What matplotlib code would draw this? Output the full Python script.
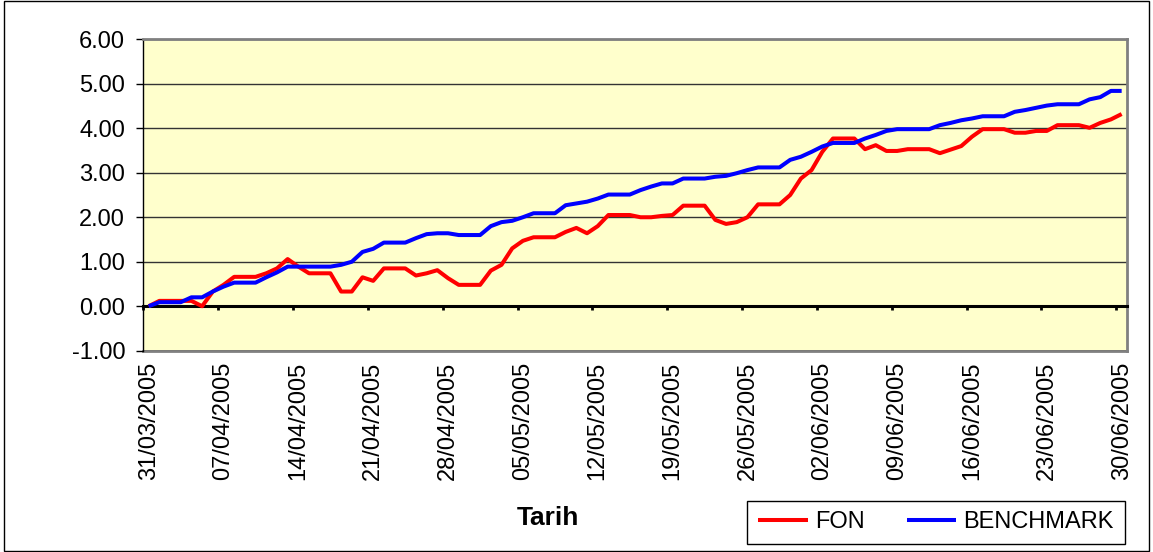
import numpy as np
import pandas as pd
import matplotlib
matplotlib.use('Agg')
import matplotlib.pyplot as plt
import matplotlib.dates as mdates
from matplotlib.patches import Rectangle
from matplotlib.ticker import FormatStrFormatter

plt.rcParams['font.family'] = ['Liberation Sans', 'DejaVu Sans']

# daily values, 31/03/2005 .. 30/06/2005 (weekends carry the Friday value)
dates = pd.date_range('2005-03-31', '2005-06-30', freq='D')

fon = [0.00, 0.12, 0.12, 0.12, 0.12, 0.00, 0.33, 0.48, 0.66, 0.66,
       0.66, 0.74, 0.85, 1.06, 0.89, 0.74, 0.74, 0.74, 0.33, 0.33,
       0.65, 0.57, 0.85, 0.85, 0.85, 0.69, 0.74, 0.81, 0.63, 0.48,
       0.48, 0.48, 0.80, 0.93, 1.30, 1.47, 1.55, 1.55, 1.55, 1.67,
       1.76, 1.64, 1.80, 2.05, 2.05, 2.05, 2.00, 2.00, 2.03, 2.05,
       2.26, 2.26, 2.26, 1.94, 1.85, 1.89, 2.00, 2.29, 2.29, 2.29,
       2.50, 2.87, 3.06, 3.47, 3.77, 3.77, 3.77, 3.53, 3.62, 3.49,
       3.49, 3.53, 3.53, 3.53, 3.44, 3.52, 3.60, 3.81, 3.98, 3.98,
       3.98, 3.90, 3.90, 3.94, 3.94, 4.07, 4.07, 4.07, 4.01, 4.12,
       4.20, 4.32]

benchmark = [0.00, 0.09, 0.09, 0.09, 0.20, 0.20, 0.33, 0.44, 0.53, 0.53,
             0.53, 0.65, 0.76, 0.89, 0.89, 0.89, 0.89, 0.89, 0.93, 1.00,
             1.22, 1.29, 1.43, 1.43, 1.43, 1.53, 1.62, 1.64, 1.64, 1.60,
             1.60, 1.60, 1.80, 1.89, 1.92, 2.00, 2.09, 2.09, 2.09, 2.27,
             2.31, 2.35, 2.42, 2.51, 2.51, 2.51, 2.61, 2.69, 2.76, 2.76,
             2.87, 2.87, 2.87, 2.91, 2.93, 2.99, 3.06, 3.12, 3.12, 3.12,
             3.29, 3.36, 3.47, 3.59, 3.67, 3.67, 3.67, 3.77, 3.85, 3.94,
             3.98, 3.98, 3.98, 3.98, 4.07, 4.12, 4.18, 4.22, 4.27, 4.27,
             4.27, 4.37, 4.41, 4.46, 4.51, 4.54, 4.54, 4.54, 4.65, 4.70,
             4.84, 4.84]

series_names = ['FON', 'BENCHMARK']
series_colors = ['#FF0000', '#0000FF']

x = mdates.date2num(dates.to_pydatetime())

W, H = 1153, 552
fig = plt.figure(figsize=(W / 100, H / 100), dpi=100)
fig.patch.set_facecolor('white')

# plot area in pixels: left 143, right 1128, top 39, bottom 351
ax = fig.add_axes([143.3 / W, 1 - 350.7 / H, (1127 - 143.3) / W, (350.7 - 39.3) / H])
ax.set_facecolor('#FFFFCC')

lines = []
for vals, name, col in zip([fon, benchmark], series_names, series_colors):
    ln, = ax.plot(x, vals, color=col, lw=2.9, label=name, zorder=3,
                  solid_joinstyle='round', solid_capstyle='butt')
    lines.append(ln)

ax.set_xlim(x[0] - 0.5, x[-1] + 0.5)
ax.set_ylim(-1, 6)
ax.set_yticks(np.arange(-1, 7, 1))
ax.yaxis.set_major_formatter(FormatStrFormatter('%.2f'))
ax.yaxis.grid(True, color='#333333', lw=1.0, zorder=1)
ax.tick_params(axis='y', direction='out', length=5, width=1, colors='black',
               labelsize=17, pad=8)

# category axis crossing at zero, tick marks between days every week
ax.spines['bottom'].set_position(('data', 0))
ax.spines['bottom'].set_color('black')
ax.spines['bottom'].set_linewidth(2.2)
ax.spines['bottom'].set_zorder(2.5)
ax.set_xticks(x[::7] - 0.5)
ax.tick_params(axis='x', direction='out', length=3, width=2, labelbottom=False)
ax.spines['left'].set_color('black')
ax.spines['left'].set_linewidth(1)
for s in ('top', 'right'):
    ax.spines[s].set_color('#808080')
    ax.spines[s].set_linewidth(2)

# date labels sit at the bottom of the plot area
sec = ax.secondary_xaxis(0)
sec.set_xticks(x[::7])
sec.xaxis.set_major_formatter(mdates.DateFormatter('%d/%m/%Y'))
sec.tick_params(length=0, labelsize=17, pad=8)
for lab in sec.get_xticklabels():
    lab.set_rotation(90)
sec.spines['bottom'].set_color('#808080')
sec.spines['bottom'].set_linewidth(2)

fig.text(548 / W, 1 - 518 / H, 'Tarih', fontsize=19, fontweight='bold',
         ha='center', va='center')

leg = fig.legend(lines, series_names, ncol=2, loc='center',
                 bbox_to_anchor=(936 / W, 1 - 522.5 / H),
                 frameon=True, fancybox=False, edgecolor='black', framealpha=1,
                 fontsize=17, handlelength=2.1, handletextpad=0.3,
                 columnspacing=1.8, borderpad=0.45)
leg.get_frame().set_linewidth(1)

fig.add_artist(Rectangle((4 / W, 1 / H), 1145 / W, 550 / H, transform=fig.transFigure,
                         fill=False, ec='black', lw=1))

fig.savefig('out.png', dpi=100)
